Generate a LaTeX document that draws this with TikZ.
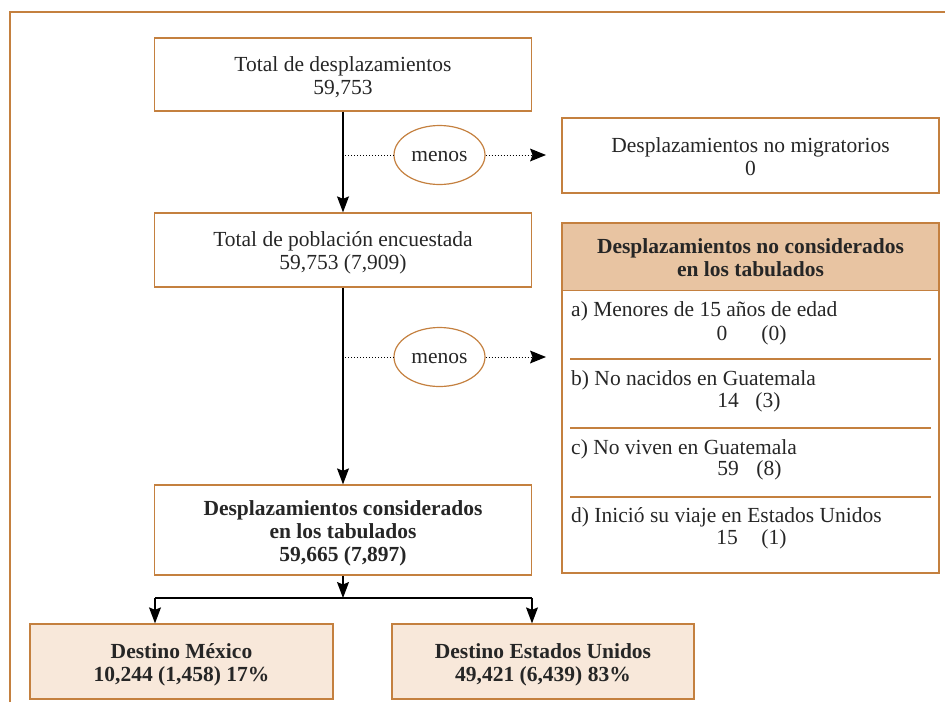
\documentclass[tikz,border=0pt]{standalone}
\usepackage{fontspec}
\setmainfont{Liberation Serif}
\usetikzlibrary{arrows.meta,shapes.geometric}
\definecolor{brd}{HTML}{C4803F}
\definecolor{hdr}{HTML}{E8C4A2}
\definecolor{lite}{HTML}{F8E8DA}
\newcommand\myfs{\fontsize{21.5}{23}\selectfont}
\newcommand\bt[1]{\raisebox{-3.5pt}[\height][\depth]{\begin{tabular}{@{}c@{}}#1\end{tabular}}}
\begin{document}
\begin{tikzpicture}[x=1pt,y=-1pt,
  box/.style={draw=brd,line width=1.3pt,rectangle,inner sep=0pt,font=\myfs,text=black!85},
  bbox/.style={box,font=\myfs\bfseries},
  item/.style={inner sep=0pt,font=\myfs,text=black!85},
  ell/.style={draw=brd,line width=1.2pt,ellipse,minimum width=91pt,minimum height=59pt,inner sep=0pt,font=\myfs,text=black!85},
  arr/.style={line width=1.2pt,-{Stealth[length=16pt,width=12pt,inset=2.5pt]}},
  dotline/.style={line width=1pt,dash pattern=on 1pt off 2pt},
  dotarr/.style={dotline,-{Stealth[length=16pt,width=13pt,inset=2.5pt,sep=0pt,line width=0pt,fill=black]}},
  sepline/.style={draw=brd,line width=1.3pt}]
\useasboundingbox (0,0) rectangle (945,702);
% outer frame
\draw[brd,line width=1.3pt] (10,702) -- (10,12) -- (945,12);
% main column
\node[box,minimum width=377pt,minimum height=73pt] (b1) at (343,74.5) {\bt{Total de desplazamientos\\59,753}};
\node[box,minimum width=377pt,minimum height=74pt] (b2) at (343,250) {\bt{Total de población encuestada\\59,753 (7,909)}};
\node[bbox,minimum width=377pt,minimum height=90pt] (b3) at (343,530) {\bt{Desplazamientos considerados\\en los tabulados\\59,665 (7,897)}};
\draw[arr] (b1.south) -- (b2.north);
\draw[arr] (b2.south) -- (b3.north);
% menos 1
\node[ell] (m1) at (439.5,155) {\raisebox{-2pt}[\height][\depth]{menos}};
\coordinate (d1) at (345,155);
\coordinate (e1) at (546,155);
\draw[dotline] (d1) -- (m1.west);
\draw[dotarr] (m1.east) -- (e1);
% menos 2
\node[ell] (m2) at (439.5,357) {\raisebox{-2pt}[\height][\depth]{menos}};
\coordinate (d2) at (345,357);
\coordinate (e2) at (546,357);
\draw[dotline] (d2) -- (m2.west);
\draw[dotarr] (m2.east) -- (e2);
% right boxes
\node[box,minimum width=377pt,minimum height=75pt] (nm) at (750.5,155.5) {\bt{Desplazamientos no migratorios\\0}};
\node[box,minimum width=377pt,minimum height=350pt] (bx) at (750.5,398) {};
\node[bbox,fill=hdr,minimum width=377pt,minimum height=67pt] (hd) at (750.5,257) {\bt{Desplazamientos no considerados\\en los tabulados}};
\draw[sepline] (570,359) -- (931,359);
\draw[sepline] (570,428) -- (931,428);
\draw[sepline] (570,497) -- (931,497);
\node[item,anchor=base west] (ia) at (571,316) {a) Menores de 15 años de edad};
\node[item,anchor=base] (na1) at (722,340) {0};
\node[item,anchor=base] (na2) at (774,340) {(0)};
\node[item,anchor=base west] (ib) at (571,385) {b) No nacidos en Guatemala};
\node[item,anchor=base] (nb1) at (728,407) {14};
\node[item,anchor=base] (nb2) at (768,407) {(3)};
\node[item,anchor=base west] (ic) at (571,454) {c) No viven en Guatemala};
\node[item,anchor=base] (nc1) at (728,475) {59};
\node[item,anchor=base] (nc2) at (769,475) {(8)};
\node[item,anchor=base west] (id) at (571,522) {d) Inició su viaje en Estados Unidos};
\node[item,anchor=base] (nd1) at (727,544) {15};
\node[item,anchor=base] (nd2) at (774,544) {(1)};
% bottom branch
\coordinate (jc) at (343,598);
\coordinate (jl) at (155,598);
\coordinate (jr) at (532,598);
\node[bbox,fill=lite,minimum width=303pt,minimum height=75pt] (mx) at (181.5,661.5) {\bt{Destino México\\10,244 (1,458) 17\%}};
\node[bbox,fill=lite,minimum width=302pt,minimum height=75pt] (us) at (543,661.5) {\bt{Destino Estados Unidos\\49,421 (6,439) 83\%}};
\draw[arr] (b3.south) -- (jc);
\draw[line width=1.2pt] (jl) -- (jr);
\draw[arr] (jl) -- (jl |- mx.north);
\draw[arr] (jr) -- (jr |- us.north);
\end{tikzpicture}
\end{document}
